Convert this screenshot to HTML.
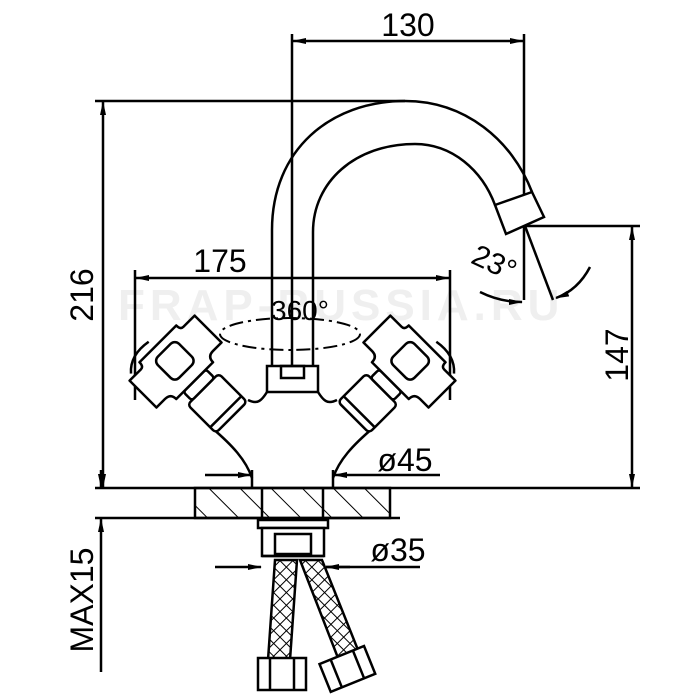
<!DOCTYPE html>
<html><head><meta charset="utf-8"><style>
html,body{margin:0;padding:0;background:#fff}
svg{display:block}
text{font-family:"Liberation Sans",sans-serif;fill:#000}
</style></head><body>
<svg width="700" height="700" viewBox="0 0 700 700" xmlns="http://www.w3.org/2000/svg">
<defs>
<marker id="a" markerWidth="14" markerHeight="8" refX="13" refY="4" orient="auto" markerUnits="userSpaceOnUse"><path d="M0,1 L14,4 L0,7 Z" fill="#000"/></marker>
<pattern id="hatch" width="22" height="22" patternUnits="userSpaceOnUse" patternTransform="rotate(-45)"><line x1="0" y1="0" x2="0" y2="22" stroke="#000" stroke-width="2"/></pattern>
<pattern id="mesh" width="9" height="9" patternUnits="userSpaceOnUse" patternTransform="rotate(45)"><rect width="9" height="9" fill="#fff"/><path d="M0,0 L9,0 M0,0 L0,9" stroke="#000" stroke-width="2"/></pattern>
<g id="handle" fill="#fff" stroke="#000" stroke-width="2.5" stroke-linejoin="round">
<rect x="-22" y="-38" width="44" height="40" rx="4"/>
<line x1="-22" y1="-6" x2="22" y2="-6"/>
<rect x="-16" y="-50" width="32" height="12" rx="3"/>
<path d="M-26,-50 Q-26,-58 -34,-58 L-46,-58 L-46,-96 L-30,-96 Q-26,-96 -26,-102 L26,-102 Q26,-96 30,-96 L46,-96 L46,-58 L34,-58 Q26,-58 26,-50 Z"/>
<path d="M-40,-100 Q-28,-114 -5,-110" fill="none"/>
<rect x="-15" y="-93" width="30" height="30" rx="6"/>
</g>
</defs>

<text x="118" y="320" font-size="44" font-weight="bold" style="fill:#efefef" letter-spacing="5">FRAP-RUSSIA.RU</text>

<g stroke="#000" stroke-width="2.5" fill="none">
<line x1="292" y1="34" x2="292" y2="370"/>
<line x1="524" y1="34" x2="524" y2="300"/>
<line x1="350" y1="41" x2="293" y2="41" marker-end="url(#a)"/>
<line x1="460" y1="41" x2="523" y2="41" marker-end="url(#a)"/>
<line x1="350" y1="41" x2="460" y2="41"/>
<line x1="95" y1="101" x2="405" y2="101"/>
<line x1="103" y1="250" x2="103" y2="102" marker-end="url(#a)"/>
<line x1="103" y1="250" x2="103" y2="487" marker-end="url(#a)"/>
<line x1="95" y1="488" x2="640" y2="488"/>
<line x1="95" y1="518" x2="400" y2="518"/>
<line x1="101" y1="470" x2="101" y2="487" marker-end="url(#a)"/>
<line x1="101" y1="672" x2="101" y2="519" marker-end="url(#a)"/>
<line x1="525" y1="226" x2="640" y2="226"/>
<line x1="632" y1="350" x2="632" y2="227" marker-end="url(#a)"/>
<line x1="632" y1="350" x2="632" y2="487" marker-end="url(#a)"/>
<line x1="135" y1="270" x2="135" y2="400"/>
<line x1="450" y1="270" x2="450" y2="400"/>
<line x1="290" y1="278" x2="136" y2="278" marker-end="url(#a)"/>
<line x1="290" y1="278" x2="449" y2="278" marker-end="url(#a)"/>
<line x1="525" y1="226" x2="553" y2="300"/>
<path d="M480,292 Q500,302 522,302" marker-end="url(#a)"/>
<path d="M590,267 Q578,290 556,298" marker-end="url(#a)"/>
<path d="M272,370 L272,230 C272,150 330,101 405,101 C465,101 512,140 532,192"/>
<path d="M313,370 L313,232 C313,182 355,144 415,144 C452,144 482,170 495,205"/>
<path d="M495,205 L532,192 L544,217 L506,234 Z" fill="#fff"/>
<ellipse cx="290" cy="334" rx="70" ry="16" stroke-dasharray="14,5,3,5" stroke-width="2"/>
<rect x="267" y="366" width="51" height="26" fill="#fff"/>
<rect x="281" y="366" width="23" height="12"/>
<path d="M212,428 C232,445 246,460 252,478 M373,428 C353,445 339,460 333,478"/>
<path d="M267,392 C262,400 258,405 248,400 M318,392 C323,400 327,405 337,400"/>
</g>
<use href="#handle" transform="translate(230,416) rotate(-45)"/>
<use href="#handle" transform="translate(355,416) rotate(45) scale(-1,1)"/>

<g stroke="#000" stroke-width="2.5" fill="none">
<line x1="205" y1="475" x2="251" y2="475" marker-end="url(#a)"/>
<line x1="440" y1="475" x2="334" y2="475" marker-end="url(#a)"/>
<line x1="252" y1="470" x2="252" y2="488"/><line x1="333" y1="470" x2="333" y2="488"/>
<rect x="195" y="488" width="195" height="30" fill="url(#hatch)"/>
<line x1="262" y1="488" x2="262" y2="518"/><line x1="323" y1="488" x2="323" y2="518"/>
<rect x="258" y="520" width="70" height="8" fill="#fff"/>
<rect x="262" y="528" width="62" height="28" fill="#fff"/>
<rect x="275" y="534" width="36" height="20"/>
<line x1="262" y1="556" x2="324" y2="556"/>
<line x1="215" y1="567" x2="261" y2="567" marker-end="url(#a)"/>
<line x1="350" y1="567" x2="326" y2="567" marker-end="url(#a)"/>
<line x1="326" y1="567" x2="420" y2="567"/>
</g>
<g stroke="#000" stroke-width="2.5">
<path d="M275,560 L297,560 L290,660 L268,660 Z" fill="url(#mesh)"/>
<path d="M300,560 L322,560 L358,650 L338,658 Z" fill="url(#mesh)"/>
<rect x="258" y="658" width="48" height="32" fill="#fff"/>
<line x1="270" y1="658" x2="270" y2="690"/><line x1="294" y1="658" x2="294" y2="690"/>
<g transform="translate(347,668) rotate(-22)"><rect x="-24" y="-14" width="48" height="30" fill="#fff"/><line x1="-12" y1="-14" x2="-12" y2="16"/><line x1="12" y1="-14" x2="12" y2="16"/></g>
</g>

<text x="408" y="36" font-size="32" text-anchor="middle">130</text>
<text x="220" y="272" font-size="32" text-anchor="middle">175</text>
<text x="405" y="471" font-size="32" text-anchor="middle">ø45</text>
<text x="398" y="561" font-size="32" text-anchor="middle">ø35</text>
<text x="300" y="320" font-size="28" text-anchor="middle">360°</text>
<text transform="translate(93,295) rotate(-90)" font-size="32" text-anchor="middle">216</text>
<text transform="translate(93,600) rotate(-90)" font-size="32" text-anchor="middle">MAX15</text>
<text transform="translate(628,355) rotate(-90)" font-size="32" text-anchor="middle">147</text>
<text transform="translate(490,272) rotate(25)" font-size="30" text-anchor="middle">23°</text>
</svg>
</body></html>
